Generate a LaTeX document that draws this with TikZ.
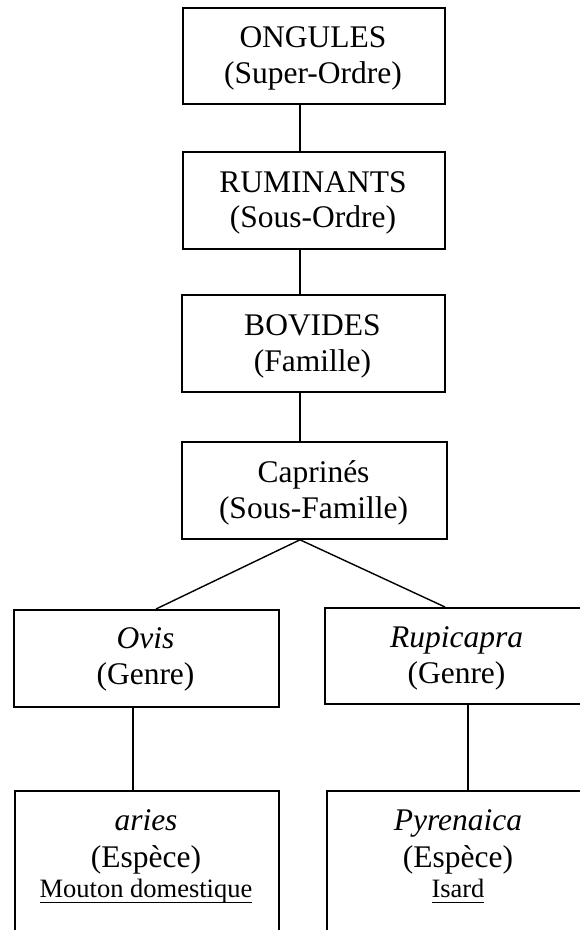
\documentclass[tikz,border=0pt]{standalone}
\usepackage{fontspec}
\setmainfont{Liberation Serif}
\newcommand\myul[1]{\setbox0\hbox{#1}\rlap{\rule[-6pt]{\wd0}{1.4pt}}\box0}
\tikzset{
  boxnode/.style={draw, line width=1.8pt, rectangle, inner sep=0pt, anchor=north west},
  txt/.style={anchor=base, inner sep=0pt, font=\fontsize{31.5}{36}\selectfont},
  smalltxt/.style={anchor=base, inner sep=0pt, font=\fontsize{26.5}{30}\selectfont},
  link/.style={line width=1.4pt}
}
\begin{document}
\begin{tikzpicture}[x=1pt,y=-1pt]
\useasboundingbox (0,0) rectangle (580,930);
\fill[white] (0,0) rectangle (580,930);
\clip (0,0) rectangle (580,930);
% boxes
\node[boxnode, minimum width=262pt, minimum height=96pt] (A) at (182,7) {};
\node[boxnode, minimum width=262pt, minimum height=97pt] (B) at (182,151) {};
\node[boxnode, minimum width=263pt, minimum height=97pt] (C) at (181,294) {};
\node[boxnode, minimum width=265pt, minimum height=97pt] (D) at (181,441) {};
\node[boxnode, minimum width=265pt, minimum height=97pt] (E) at (13,609) {};
\node[boxnode, minimum width=265pt, minimum height=96pt] (F) at (324,607) {};
\node[boxnode, minimum width=264pt, minimum height=170pt] (G) at (14,790) {};
\node[boxnode, minimum width=264pt, minimum height=170pt] (H) at (326,790) {};
% texts
\node[txt] (A1) at (313,47) {ONGULES};
\node[txt] (A2) at (313,83) {(Super-Ordre)};
\node[txt] (B1) at (313,192) {RUMINANTS};
\node[txt] (B2) at (313,227) {(Sous-Ordre)};
\node[txt] (C1) at (312.5,335) {BOVIDES};
\node[txt] (C2) at (312.5,371) {(Famille)};
\node[txt] (D1) at (313.5,482) {Caprinés};
\node[txt] (D2) at (313.5,518) {(Sous-Famille)};
\node[txt] (E1) at (145.5,648) {\itshape Ovis};
\node[txt] (E2) at (145.5,684) {(Genre)};
\node[txt] (F1) at (456.5,647) {\itshape Rupicapra};
\node[txt] (F2) at (456.5,683) {(Genre)};
\node[txt] (G1) at (146,830) {\itshape aries};
\node[txt] (G2) at (146,867) {(Espèce)};
\node[smalltxt] (G3) at (146,897) {\myul{Mouton domestique}};
\node[txt] (H1) at (458,830) {\itshape Pyrenaica};
\node[txt] (H2) at (458,867) {(Espèce)};
\node[smalltxt] (H3) at (458,897) {\myul{Isard}};
% connector x positions
\coordinate (xa) at (300,0);
\coordinate (xe) at (156,0);
\coordinate (xf) at (445,0);
\coordinate (xg) at (133,0);
\coordinate (xh) at (468,0);
% connectors
\draw[link] (A.south -| xa) -- (B.north -| xa);
\draw[link] (B.south -| xa) -- (C.north -| xa);
\draw[link] (C.south -| xa) -- (D.north -| xa);
\draw[link] (D.south -| xa) -- (E.north -| xe);
\draw[link] (D.south -| xa) -- (F.north -| xf);
\draw[link] (E.south -| xg) -- (G.north -| xg);
\draw[link] (F.south -| xh) -- (H.north -| xh);
\end{tikzpicture}
\end{document}
